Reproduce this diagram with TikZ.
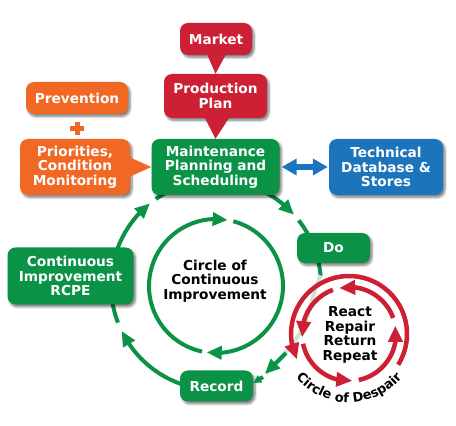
\documentclass[tikz,border=0pt]{standalone}
\usepackage{fontspec}
\setmainfont{DejaVu Sans}
\usetikzlibrary{arrows.meta,bending,shadows.blur,decorations.text}
\definecolor{cred}{RGB}{206,32,52}
\definecolor{corange}{RGB}{241,103,36}
\definecolor{cgreen}{RGB}{10,146,70}
\definecolor{cblue}{RGB}{28,117,188}
\definecolor{clight}{RGB}{200,232,210}
\begin{document}
\begin{tikzpicture}[x=1pt,y=1pt,
 box/.style={rounded corners=8pt, text=white, align=center, inner sep=0pt,
   font=\bfseries\fontsize{13.7}{14.5}\selectfont,
   blur shadow={shadow xshift=2pt,shadow yshift=-2.5pt,shadow blur steps=6,shadow opacity=50}},
 gline/.style={cgreen, line width=4pt},
 rline/.style={cred, line width=4.5pt},
 gtip/.style={-{Triangle[length=15pt,width=13pt]}},
 rtip/.style={-{Triangle[length=16pt,width=14pt]}},
 lbl/.style={align=center, font=\bfseries\fontsize{13.7}{14.5}\selectfont, text=black}
]
\useasboundingbox (0,0) rectangle (456,426);
\coordinate (C) at (216,141);
\coordinate (Ci) at (216,140);
\coordinate (R) at (349,92);

% big circle of continuous improvement
\draw[gline,gtip] (C) ++(252:105) arc[start angle=252,end angle=206,radius=105];
\draw[gline,gtip] (C) ++(201:105) arc[start angle=201,end angle=129,radius=105];
\draw[gline,gtip] (C) ++(125:105) arc[start angle=125,end angle=42,radius=105];
\draw[gline] (C) ++(38:105) arc[start angle=38,end angle=5,radius=105];
\draw[clight, line width=4pt] plot[smooth] coordinates {(320.6,150.5) (315,136) (307,109) (300,93) (290,79) (277,64) (266,53)};

% inner circle
\draw[gline,gtip] (Ci) ++(258:67) arc[start angle=258,end angle=80,radius=67];
\draw[gline,gtip] (Ci) ++(75:67) arc[start angle=75,end angle=-98,radius=67];

% circle of despair
\draw[rline,rtip] (R) ++(-32:58) arc[start angle=-32,end angle=206,radius=58];
\draw[rline,rtip] (R) ++(20:47) arc[start angle=20,end angle=102,radius=47];
\draw[rline,rtip] (R) ++(110:47) arc[start angle=110,end angle=184,radius=47];
\draw[rline,rtip] (R) ++(192:47) arc[start angle=192,end angle=274,radius=47];
\draw[rline,rtip] (R) ++(282:47) arc[start angle=282,end angle=370,radius=47];
\path[decorate,decoration={text along path,text align=center,
  text={|\bfseries\fontsize{13}{13}\selectfont|Circle of Despair}}]
  (R) ++(200:68.5) arc[start angle=200,end angle=340,radius=68.5];

\node[lbl] (cci) at (215,145) {Circle of\\Continuous\\Improvement};
\node[lbl] (rrr) at (350,91) {React\\Repair\\Return\\Repeat};

% boxes
\node[box, fill=cred, minimum width=72pt, minimum height=32pt] (market) at (216,387) {Market};
\node[box, fill=cred, minimum width=103pt, minimum height=44pt] (pp) at (215.5,330) {Production\\Plan};
\node[box, fill=corange, minimum width=102pt, minimum height=32pt] (prev) at (77,328) {Prevention};
\node[box, fill=corange, minimum width=110pt, minimum height=56pt] (prio) at (75,259) {Priorities,\\Condition\\Monitoring};
\node[box, fill=cgreen, minimum width=128pt, minimum height=56pt] (mps) at (215.5,259) {Maintenance\\Planning and\\Scheduling};
\node[box, fill=cblue, minimum width=114pt, minimum height=56pt] (tech) at (386,259) {Technical\\Database \&\\Stores};
\node[box, fill=cgreen, minimum width=73pt, minimum height=30pt] (do) at (333.5,178) {Do};
\node[box, fill=cgreen, minimum width=126pt, minimum height=57pt] (ci) at (70.5,150) {Continuous\\Improvement\\RCPE};
\node[box, fill=cgreen, minimum width=73pt, minimum height=31pt] (record) at (216.5,40) {Record};

% connectors
\fill[cred] ([xshift=-9pt,yshift=1pt]market.south) -- ([xshift=10pt,yshift=1pt]market.south) -- (pp.north) -- cycle;
\fill[cred] ([xshift=-11pt,yshift=1pt]pp.south) -- ([xshift=14pt,yshift=1pt]pp.south) -- (mps.north) -- cycle;
\fill[corange] ([xshift=-1pt,yshift=10pt]prio.east) -- ([xshift=-1pt,yshift=-10pt]prio.east) -- (mps.west) -- cycle;
\draw[corange, line width=5pt] ([xshift=-7pt,yshift=-14pt]prev.south) -- ([xshift=7pt,yshift=-14pt]prev.south);
\draw[corange, line width=5pt] ([yshift=-7.5pt]prev.south) -- ([yshift=-20.5pt]prev.south);
\draw[cblue, line width=6pt, {Triangle[length=15pt,width=16pt]}-{Triangle[length=15pt,width=16pt]}, shorten <=2pt, shorten >=1pt] (mps.east) -- (tech.west);
\draw[gline,gtip] (286,73) -- (265,52);
\draw[gline,-{Triangle[length=8pt,width=8pt]}] (263,49) -- ([yshift=3pt]record.east);
\end{tikzpicture}
\end{document}
